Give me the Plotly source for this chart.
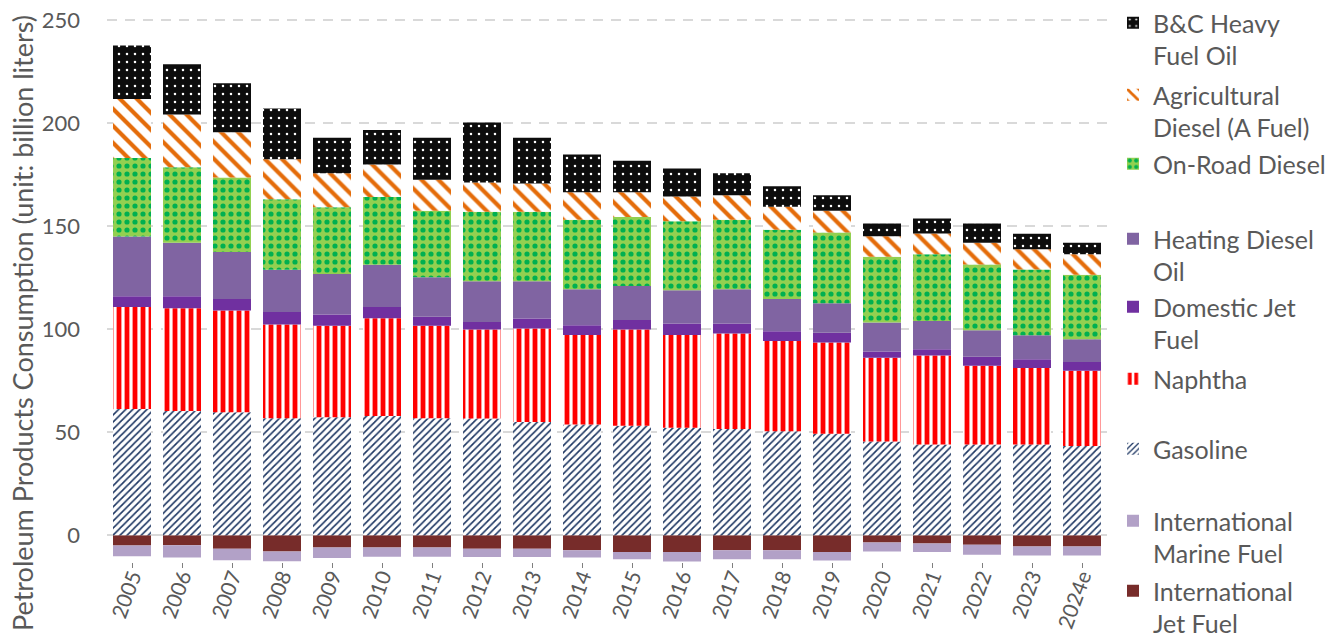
import plotly.graph_objects as go

years = ["2005", "2006", "2007", "2008", "2009", "2010", "2011", "2012", "2013", "2014",
         "2015", "2016", "2017", "2018", "2019", "2020", "2021", "2022", "2023", "2024e"]

gasoline = [61.2, 60.3, 59.7, 56.8, 57.3, 57.9, 56.8, 56.6, 54.9, 53.7,
            53.1, 52.1, 51.5, 50.5, 49.2, 45.5, 44.0, 44.0, 44.0, 43.3]
naphtha = [49.6, 49.9, 49.4, 45.5, 44.3, 47.4, 44.8, 43.2, 45.4, 43.5,
           46.7, 45.1, 46.4, 43.7, 44.3, 40.6, 43.2, 38.2, 37.1, 36.5]
domestic_jet = [5.2, 5.8, 5.5, 6.0, 5.5, 5.5, 4.4, 3.7, 4.9, 4.7,
                4.6, 5.6, 4.9, 4.8, 4.7, 3.1, 3.1, 4.4, 4.3, 4.2]
heating_diesel = [29.0, 25.9, 22.9, 20.5, 19.7, 20.4, 19.2, 19.8, 18.1, 17.5,
                  16.5, 16.1, 16.6, 15.6, 14.4, 14.0, 13.6, 12.9, 11.7, 11.1]
onroad_diesel = [38.0, 36.7, 36.1, 34.2, 32.4, 32.9, 32.2, 33.7, 33.7, 33.7,
                 33.5, 33.5, 33.7, 33.6, 34.3, 31.9, 32.5, 31.9, 31.9, 31.3]
agri_diesel = [28.7, 25.6, 21.9, 19.4, 16.4, 15.8, 15.1, 14.2, 13.7, 13.3,
               12.0, 12.0, 11.9, 11.2, 10.5, 10.0, 10.0, 10.5, 9.8, 9.9]
bc_heavy = [26.0, 24.3, 23.8, 24.7, 17.3, 16.7, 20.4, 29.1, 22.2, 18.4,
            15.3, 13.6, 10.6, 9.9, 7.6, 6.2, 7.3, 9.4, 7.5, 5.6]
intl_jet = [-5.0, -4.9, -6.6, -7.9, -6.0, -6.0, -6.0, -6.6, -6.6, -7.3,
            -8.1, -8.1, -7.3, -7.3, -8.1, -3.5, -4.0, -4.6, -5.5, -5.5]
intl_marine = [-5.2, -5.9, -5.5, -4.7, -5.0, -4.5, -4.4, -4.0, -4.0, -3.5,
               -3.6, -4.7, -4.4, -4.4, -4.2, -4.4, -4.2, -4.9, -4.4, -4.4]

FONT = "Lato"
GREY = "#595959"
W, H = 1340, 641

# (name, values, color, pattern, legend first-line centre in px)
series = [
    ("International<br>Jet Fuel", intl_jet, "#772C2A", None, 592),
    ("International<br>Marine Fuel", intl_marine, "#B2A1C7", None, 522),
    ("Gasoline", gasoline, "#FFFFFF",
     dict(shape="/", fgcolor="#1F3864", bgcolor="#FFFFFF", size=5, solidity=0.33), 450),
    ("Naphtha", naphtha, "#FFFFFF",
     dict(shape="|", fgcolor="#FF0000", bgcolor="#FFFFFF", size=8, solidity=0.6), 380),
    ("Domestic Jet<br>Fuel", domestic_jet, "#7030A0", None, 308),
    ("Heating Diesel<br>Oil", heating_diesel, "#8064A2", None, 240),
    ("On-Road Diesel", onroad_diesel, "#92D050",
     dict(shape=".", fgcolor="#00B050", bgcolor="#92D050", size=8, solidity=0.33), 165),
    ("Agricultural<br>Diesel (A Fuel)", agri_diesel, "#FFFFFF",
     dict(shape="\\", fgcolor="#E46C0A", bgcolor="#FFFFFF", size=12, solidity=0.35), 96),
    ("B&C Heavy<br>Fuel Oil", bc_heavy, "#0D0D0D",
     dict(shape=".", fgcolor="#FFFFFF", bgcolor="#0D0D0D", size=8, solidity=0.08), 22),
]

fig = go.Figure()
legend_layouts = {}
for i, (name, vals, color, pattern, ly) in enumerate(series):
    marker = dict(color=color, line=dict(width=0))
    if pattern:
        marker["pattern"] = dict(fillmode="replace", **pattern)
    lid = "legend" if i == 0 else f"legend{i + 1}"
    fig.add_trace(go.Bar(x=years, y=vals, name=name, marker=marker, legend=lid))
    legend_layouts[lid] = dict(
        xref="container", yref="container",
        x=1113 / W, xanchor="left",
        y=1 - (ly - 24) / H, yanchor="top",
        valign="top", bgcolor="rgba(0,0,0,0)",
        font=dict(family=FONT, size=25, color=GREY),
    )

# plot area in px: x 107..1107, y 18..562 (range -13..251)
PT, PB = 18, 562
fig.add_annotation(
    text="Petroleum Products Consumption (unit: billion liters)",
    xref="paper", yref="paper", x=-0.085, y=(PB - 323) / (PB - PT),
    xanchor="center", yanchor="middle", textangle=-90, showarrow=False,
    font=dict(family=FONT, size=27, color=GREY),
)

fig.update_layout(
    width=W, height=H,
    barmode="relative", bargap=0.24,
    plot_bgcolor="white", paper_bgcolor="white",
    margin=dict(l=107, r=W - 1107, t=PT, b=H - PB),
    font=dict(family=FONT, size=22, color=GREY),
    showlegend=True,
    **legend_layouts,
)
fig.update_xaxes(
    tickangle=-70, tickfont=dict(family=FONT, size=21, color=GREY),
    showgrid=False, showline=False, ticks="outside", ticklen=5,
    tickcolor="#7F7F7F", automargin=False, ticklabelstandoff=-12,
)
fig.update_yaxes(
    range=[-13, 251], tickvals=[0, 50, 100, 150, 200, 250],
    tickfont=dict(family=FONT, size=22, color=GREY),
    showgrid=True, gridcolor="#D9D9D9", gridwidth=2, griddash="10px,8px",
    zeroline=True, zerolinecolor="#D9D9D9", zerolinewidth=2,
    showline=False, automargin=False, ticks="", ticklabelstandoff=26,
    ticklabeloverflow="allow",
)

fig.write_html("out.html",
               config={"displayModeBar": False},
               post_script="document.body.style.margin='0px';"
                           "document.body.style.overflow='hidden';")
